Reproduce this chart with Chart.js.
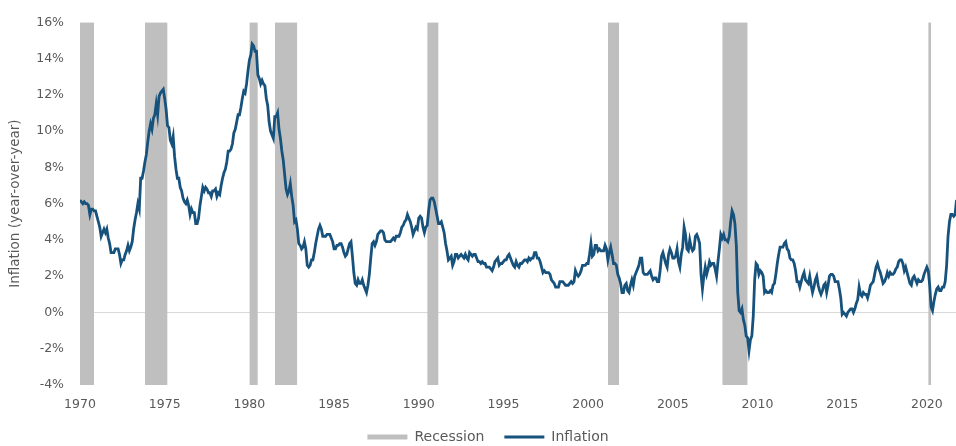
<!DOCTYPE html>
<html>
<head>
<meta charset="utf-8">
<script src="https://cdn.jsdelivr.net/npm/chart.js@4.4.1/dist/chart.umd.min.js"></script>
<style>
  html, body { margin: 0; padding: 0; background: #fff; }
  #wrap { width: 956px; height: 446px; position: relative; }
</style>
</head>
<body>
<div id="wrap"><canvas id="chart"></canvas></div>
<script>
// CPI inflation, year-over-year, monthly from Jan 1970
const startYear = 1970;
const inflation = [
  6.2, 6.1, 6.0, 6.1, 6.0, 6.0, 5.9, 5.4, 5.7, 5.7, 5.6, 5.6,   // 1970
  5.3, 5.0, 4.7, 4.2, 4.4, 4.6, 4.4, 4.6, 4.1, 3.8, 3.3, 3.3,   // 1971
  3.3, 3.5, 3.5, 3.5, 3.2, 2.7, 2.9, 2.9, 3.2, 3.4, 3.7, 3.4,
  3.6, 3.9, 4.6, 5.1, 5.5, 6.0, 5.7, 7.4, 7.4, 7.8, 8.3, 8.7,
  9.4, 10.0, 10.4, 10.1, 10.7, 10.9, 11.5, 10.9, 11.9, 12.1, 12.2, 12.3,
  11.8, 11.2, 10.3, 10.2, 9.5, 9.3, 9.7, 8.6, 7.9, 7.4, 7.4, 6.9,   // 1975
  6.7, 6.3, 6.1, 6.0, 6.2, 5.9, 5.4, 5.7, 5.5, 5.5, 4.9, 4.9,
  5.2, 5.9, 6.4, 6.9, 6.7, 6.9, 6.8, 6.6, 6.6, 6.4, 6.7, 6.7,
  6.8, 6.4, 6.6, 6.5, 7.0, 7.4, 7.7, 7.9, 8.3, 8.9, 8.9, 9.0,
  9.3, 9.9, 10.1, 10.5, 10.9, 10.9, 11.3, 11.8, 12.2, 12.1, 12.6, 13.3,
  13.9, 14.2, 14.8, 14.7, 14.4, 14.4, 13.1, 12.9, 12.6, 12.8, 12.6, 12.5,   // 1980
  11.8, 11.4, 10.5, 10.0, 9.8, 9.6, 10.8, 10.8, 11.0, 10.1, 9.6, 8.9,
  8.4, 7.6, 6.8, 6.5, 6.7, 7.1, 6.4, 5.9, 5.0, 5.1, 4.6, 3.8,
  3.7, 3.5, 3.6, 3.9, 3.5, 2.6, 2.5, 2.6, 2.9, 2.9, 3.3, 3.8,
  4.2, 4.6, 4.8, 4.6, 4.2, 4.2, 4.2, 4.3, 4.3, 4.3, 4.1, 3.9,
  3.5, 3.5, 3.7, 3.7, 3.8, 3.8, 3.6, 3.3, 3.1, 3.2, 3.5, 3.8,   // 1985
  3.9, 3.1, 2.2, 1.6, 1.5, 1.8, 1.6, 1.6, 1.8, 1.5, 1.3, 1.1,
  1.5, 2.1, 3.0, 3.8, 3.9, 3.7, 3.9, 4.3, 4.4, 4.5, 4.5, 4.4,
  4.0, 3.9, 3.9, 3.9, 3.9, 4.0, 4.1, 4.0, 4.2, 4.2, 4.2, 4.4,
  4.7, 4.8, 5.0, 5.1, 5.4, 5.2, 5.0, 4.7, 4.3, 4.5, 4.7, 4.6,
  5.2, 5.3, 5.2, 4.7, 4.4, 4.7, 4.8, 5.6, 6.2, 6.3, 6.3, 6.1,   // 1990
  5.7, 5.3, 4.9, 4.9, 5.0, 4.7, 4.4, 3.8, 3.4, 2.9, 3.0, 3.1,
  2.6, 2.8, 3.2, 3.2, 3.0, 3.1, 3.2, 3.1, 3.0, 3.2, 3.0, 2.9,
  3.3, 3.2, 3.1, 3.2, 3.2, 3.0, 2.8, 2.8, 2.7, 2.8, 2.7, 2.7,
  2.5, 2.5, 2.5, 2.4, 2.3, 2.5, 2.8, 2.9, 3.0, 2.6, 2.7, 2.7,
  2.8, 2.9, 2.9, 3.1, 3.2, 3.0, 2.8, 2.6, 2.5, 2.8, 2.6, 2.5,   // 1995
  2.7, 2.7, 2.8, 2.9, 2.9, 2.8, 3.0, 2.9, 3.0, 3.0, 3.3, 3.3,
  3.0, 3.0, 2.8, 2.5, 2.2, 2.3, 2.2, 2.2, 2.2, 2.1, 1.8, 1.7,
  1.6, 1.4, 1.4, 1.4, 1.7, 1.7, 1.7, 1.6, 1.5, 1.5, 1.5, 1.6,
  1.7, 1.6, 1.7, 2.3, 2.1, 2.0, 2.1, 2.3, 2.6, 2.6, 2.6, 2.7,
  2.7, 3.2, 3.8, 3.1, 3.2, 3.7, 3.7, 3.4, 3.5, 3.4, 3.4, 3.4,   // 2000
  3.7, 3.5, 2.9, 3.3, 3.6, 3.2, 2.7, 2.7, 2.6, 2.1, 1.9, 1.6,
  1.1, 1.1, 1.5, 1.6, 1.2, 1.1, 1.5, 1.8, 1.5, 2.0, 2.2, 2.4,
  2.6, 3.0, 3.0, 2.2, 2.1, 2.1, 2.1, 2.2, 2.3, 2.0, 1.8, 1.9,
  1.9, 1.7, 1.7, 2.3, 3.1, 3.3, 3.0, 2.7, 2.5, 3.2, 3.5, 3.3,
  3.0, 3.0, 3.1, 3.5, 2.8, 2.5, 3.2, 3.6, 4.7, 4.3, 3.5, 3.4,   // 2005
  4.0, 3.6, 3.4, 3.5, 4.2, 4.3, 4.1, 3.8, 2.1, 1.3, 2.0, 2.5,
  2.1, 2.4, 2.8, 2.6, 2.7, 2.7, 2.4, 2.0, 2.8, 3.5, 4.3, 4.1,
  4.3, 4.0, 4.0, 3.9, 4.2, 5.0, 5.6, 5.4, 4.9, 3.7, 1.1, 0.1,
  0.0, 0.2, -0.4, -0.7, -1.3, -1.4, -2.1, -1.5, -1.3, -0.2, 1.8, 2.7,
  2.6, 2.1, 2.3, 2.2, 2.0, 1.1, 1.2, 1.1, 1.1, 1.2, 1.1, 1.5,   // 2010
  1.6, 2.1, 2.7, 3.2, 3.6, 3.6, 3.6, 3.8, 3.9, 3.5, 3.4, 3.0,
  2.9, 2.9, 2.7, 2.3, 1.7, 1.7, 1.4, 1.7, 2.0, 2.2, 1.8, 1.7,
  1.6, 2.0, 1.5, 1.1, 1.4, 1.8, 2.0, 1.5, 1.2, 1.0, 1.2, 1.5,
  1.6, 1.1, 1.5, 2.0, 2.1, 2.1, 2.0, 1.7, 1.7, 1.7, 1.3, 0.8,
  -0.1, 0.0, -0.1, -0.2, 0.0, 0.1, 0.2, 0.2, 0.0, 0.2, 0.5, 0.7,   // 2015
  1.4, 1.0, 0.9, 1.1, 1.0, 1.0, 0.8, 1.1, 1.5, 1.6, 1.7, 2.1,
  2.5, 2.7, 2.4, 2.2, 1.9, 1.6, 1.7, 1.9, 2.2, 2.0, 2.2, 2.1,
  2.1, 2.2, 2.4, 2.5, 2.8, 2.9, 2.9, 2.7, 2.3, 2.5, 2.2, 1.9,
  1.6, 1.5, 1.9, 2.0, 1.8, 1.6, 1.8, 1.7, 1.7, 1.8, 2.1, 2.3,
  2.5, 2.3, 1.5, 0.3, 0.1, 0.6, 1.0, 1.3, 1.4, 1.2, 1.2, 1.4,   // 2020
  1.4, 1.7, 2.6, 4.2, 5.0, 5.4, 5.4, 5.3, 5.4, 6.2, 6.8, 7.0
];

// NBER recessions (decimal years)
const recessionStart = [1969.92, 1973.83, 1980.0, 1981.5, 1990.5, 2001.17, 2007.92, 2020.08];
const recessionEnd   = [1970.83, 1975.17, 1980.5, 1982.83, 1991.17, 2001.83, 2009.42, 2020.25];

const xTicks = [1970, 1975, 1980, 1985, 1990, 1995, 2000, 2005, 2010, 2015, 2020];
const yMin = -4, yMax = 16, yStep = 2;
const xMin = 1970, xMax = 2021.72;

const inflationPoints = inflation.map((v, i) => ({ x: startYear + i / 12, y: v }));

// each recession: flat top at yMax, filled down to the bottom of the scale
const recessionPoints = [];
recessionStart.forEach((s, i) => {
    recessionPoints.push({ x: s, y: yMax });
    recessionPoints.push({ x: recessionEnd[i], y: yMax });
    recessionPoints.push({ x: recessionEnd[i] + 0.01, y: null });
});

const gray = '#595959';
const fontFam = '"DejaVu Sans", Arial, sans-serif';
const fontSize = 12.5;
const legendLineWidth = [5, 3];

new Chart(document.getElementById('chart'), {
    type: 'line',
    data: {
        datasets: [
            {
                label: 'Recession',
                data: recessionPoints,
                borderWidth: 0,
                borderColor: '#bfbfbf',
                backgroundColor: '#bfbfbf',
                fill: 'start',
                pointRadius: 0,
                spanGaps: false,
                order: 2
            },
            {
                label: 'Inflation',
                data: inflationPoints,
                borderColor: '#17527c',
                backgroundColor: '#17527c',
                borderWidth: 2.8,
                pointRadius: 0,
                tension: 0,
                fill: false,
                order: 1
            }
        ]
    },
    options: {
        responsive: true,
        maintainAspectRatio: false,
        animation: false,
        layout: { padding: { top: 6, right: 0, left: 20, bottom: -8 } },
        plugins: {
            tooltip: { enabled: false },
            legend: {
                position: 'bottom',
                labels: {
                    color: gray,
                    font: { family: fontFam, size: 14 },
                    usePointStyle: true,
                    pointStyleWidth: 40,
                    boxHeight: 6,
                    padding: 20,
                    generateLabels: (chart) => chart.data.datasets.map((ds, i) => ({
                        text: ds.label,
                        fillStyle: ds.backgroundColor,
                        strokeStyle: ds.backgroundColor,
                        lineWidth: legendLineWidth[i],
                        pointStyle: 'line',
                        fontColor: gray,
                        datasetIndex: i
                    }))
                }
            }
        },
        scales: {
            x: {
                type: 'linear',
                min: xMin,
                max: xMax,
                grid: { display: false },
                border: { display: false },
                afterBuildTicks: (s) => { s.ticks = xTicks.map(v => ({ value: v })); },
                ticks: {
                    color: gray,
                    font: { family: fontFam, size: fontSize },
                    padding: 4,
                    maxRotation: 0,
                    autoSkip: false,
                    callback: (v) => String(v)
                },
                afterFit: (s) => { s.height = 25; }
            },
            y: {
                min: yMin,
                max: yMax,
                grid: {
                    drawTicks: false,
                    color: (ctx) => (ctx.tick && ctx.tick.value === 0 ? '#d9d9d9' : 'rgba(0,0,0,0)')
                },
                border: { display: false },
                ticks: {
                    stepSize: yStep,
                    color: gray,
                    font: { family: fontFam, size: fontSize, lineHeight: 1 },
                    padding: 16,
                    callback: (v) => v + '%'
                },
                title: {
                    display: true,
                    text: 'Inflation (year-over-year)',
                    color: gray,
                    font: { family: fontFam, size: 13.5 },
                    padding: { top: -13, bottom: 0 }
                },
                afterFit: (s) => { s.width = 60; }
            }
        }
    }
});
</script>
</body>
</html>
